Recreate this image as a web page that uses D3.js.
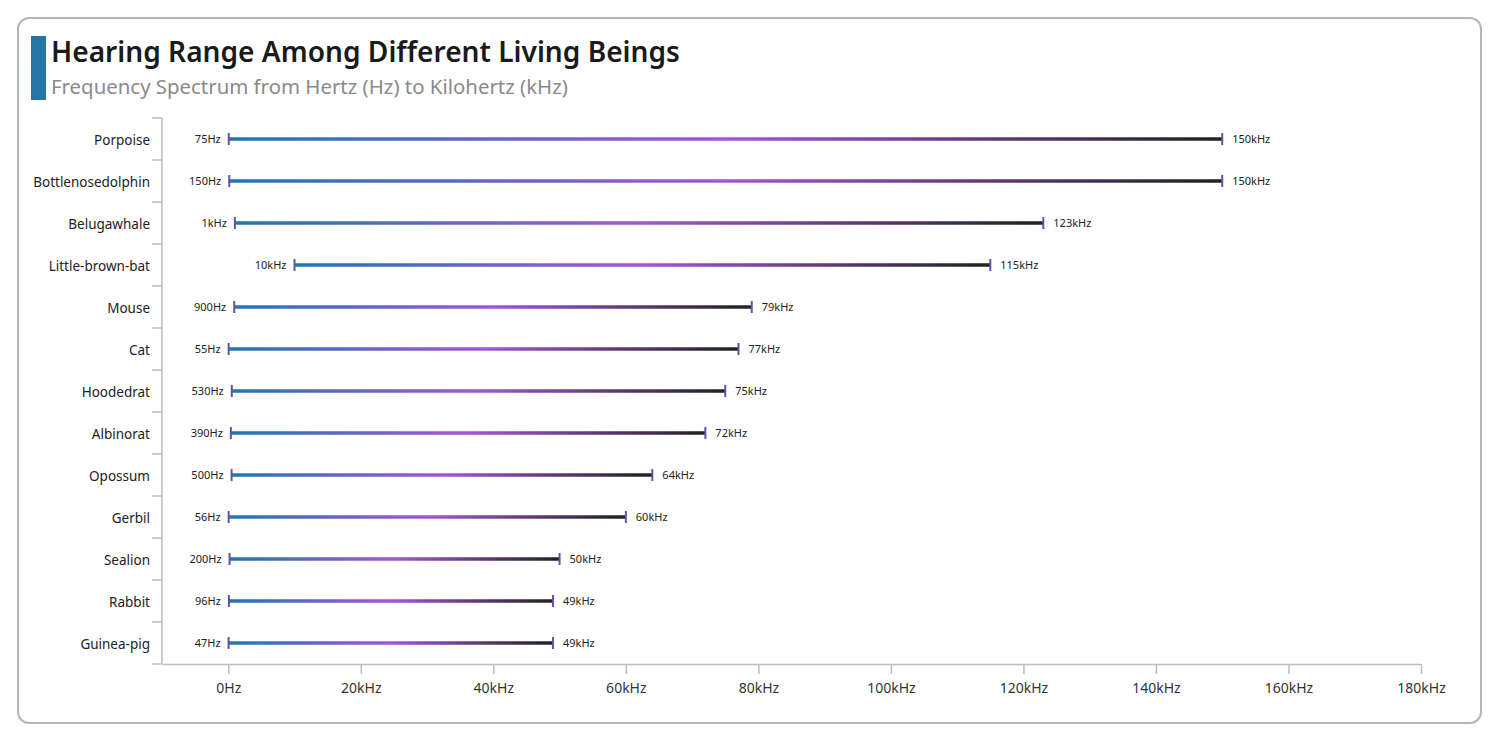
<!DOCTYPE html>
<html>
<head>
<meta charset="utf-8">
<script src="https://cdn.jsdelivr.net/npm/d3@7"></script>
<style>
  html, body { margin: 0; padding: 0; background: #fff; }
  svg { display: block; font-family: "Noto Sans", "Open Sans", sans-serif; }
</style>
</head>
<body>
<svg id="chart" width="1500" height="742"></svg>
<script>
const categories = ["Porpoise","Bottlenosedolphin","Belugawhale","Little-brown-bat","Mouse","Cat","Hoodedrat","Albinorat","Opossum","Gerbil","Sealion","Rabbit","Guinea-pig"];
const lowHz  = [75, 150, 1000, 10000, 900, 55, 530, 390, 500, 56, 200, 96, 47];
const highHz = [150000, 150000, 123000, 115000, 79000, 77000, 75000, 72000, 64000, 60000, 50000, 49000, 49000];
const xTicks = [0, 20000, 40000, 60000, 80000, 100000, 120000, 140000, 160000, 180000];

const fmt = v => v >= 1000 ? (v / 1000) + "kHz" : v + "Hz";
const data = categories.map((c, i) => ({ name: c, lo: lowHz[i], hi: highHz[i] }));

const svg = d3.select("#chart");

// card
svg.append("rect").attr("x", 18).attr("y", 18).attr("width", 1463).attr("height", 705)
  .attr("rx", 11).attr("fill", "#fff").attr("stroke", "#b5b5b8").attr("stroke-width", 2);

// title accent
svg.append("rect").attr("x", 31).attr("y", 36).attr("width", 15).attr("height", 64).attr("fill", "#2474a6");
svg.append("text").attr("x", 51).attr("y", 62).attr("font-size", 28.1).attr("font-weight", 600)
  .attr("fill", "#1a1a1a").text("Hearing Range Among Different Living Beings");
svg.append("text").attr("x", 51).attr("y", 94).attr("font-size", 20.4)
  .attr("fill", "#8a8a8a").text("Frequency Spectrum from Hertz (Hz) to Kilohertz (kHz)");

const x = d3.scaleLinear().domain([-10000, 180000]).range([162, 1421]);
const y = d3.scaleBand().domain(categories).range([118, 664]);

// gradient
const defs = svg.append("defs");
const grad = defs.append("linearGradient").attr("id", "lineGrad")
  .attr("x1", "0%").attr("x2", "100%").attr("y1", "0%").attr("y2", "0%");
grad.append("stop").attr("offset", "0%").attr("stop-color", "#1f78b0");
grad.append("stop").attr("offset", "50%").attr("stop-color", "#a455d6");
grad.append("stop").attr("offset", "100%").attr("stop-color", "#222222");

// x axis
const xAxis = svg.append("g").attr("transform", "translate(0,664)")
  .call(d3.axisBottom(x).tickValues(xTicks).tickFormat(fmt).tickSize(10).tickSizeOuter(0));
xAxis.select(".domain").attr("stroke", "#bdbdbd").attr("stroke-width", 1.5);
xAxis.selectAll(".tick line").attr("stroke", "#bdbdbd").attr("stroke-width", 1.5);
xAxis.selectAll(".tick text").attr("font-size", 14).attr("fill", "#333").attr("dy", "1.15em")
  .attr("font-family", "'Noto Sans', 'Open Sans', sans-serif");

// y axis: line with boundary ticks
const yg = svg.append("g");
yg.append("line").attr("x1", 162).attr("x2", 162).attr("y1", y.range()[0]).attr("y2", y.range()[1])
  .attr("stroke", "#bdbdbd").attr("stroke-width", 1.5);
const bounds = categories.map(c => y(c)).concat([y.range()[1]]);
yg.selectAll("line.b").data(bounds).enter().append("line").attr("class", "b")
  .attr("x1", 152).attr("x2", 162).attr("y1", d => d).attr("y2", d => d)
  .attr("stroke", "#bdbdbd").attr("stroke-width", 1.5);
yg.selectAll("text").data(categories).enter().append("text")
  .attr("x", 150).attr("y", d => y(d) + y.bandwidth() / 2 + 1).attr("dy", "0.35em")
  .attr("text-anchor", "end").attr("font-size", 13.5).attr("fill", "#222").text(d => d);

// range lines
const g = svg.append("g").selectAll("g").data(data).enter().append("g")
  .attr("transform", d => `translate(0,${y(d.name) + y.bandwidth() / 2})`);

g.append("rect").attr("x", d => x(d.lo)).attr("y", -1.75)
  .attr("width", d => x(d.hi) - x(d.lo)).attr("height", 3.5).attr("fill", "url(#lineGrad)");

g.append("line").attr("x1", d => x(d.lo)).attr("x2", d => x(d.lo)).attr("y1", -6).attr("y2", 6)
  .attr("stroke", "#6a4ea8").attr("stroke-width", 2);
g.append("line").attr("x1", d => x(d.hi)).attr("x2", d => x(d.hi)).attr("y1", -6).attr("y2", 6)
  .attr("stroke", "#6a4ea8").attr("stroke-width", 2);

g.append("text").attr("x", d => x(d.lo) - 8).attr("dy", "0.4em").attr("text-anchor", "end")
  .attr("font-size", 11).attr("fill", "#222").text(d => fmt(d.lo));
g.append("text").attr("x", d => x(d.hi) + 10).attr("dy", "0.4em").attr("text-anchor", "start")
  .attr("font-size", 11).attr("fill", "#222").text(d => fmt(d.hi));
</script>
</body>
</html>
